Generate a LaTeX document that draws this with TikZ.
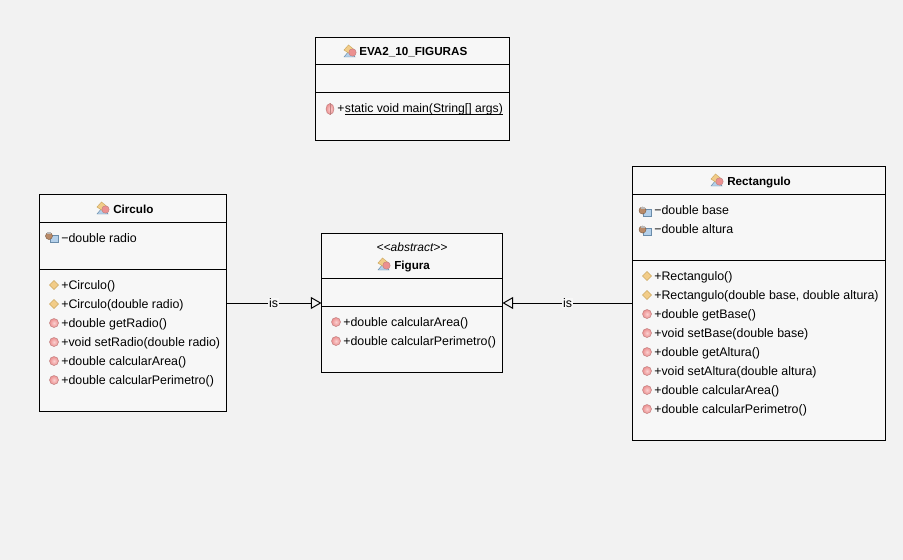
\documentclass[tikz,border=0pt]{standalone}
\usepackage{fontspec}
\setmainfont{Liberation Sans}
\usetikzlibrary{arrows.meta}
\definecolor{bgc}{HTML}{F2F2F2}
\definecolor{boxc}{HTML}{F7F7F7}
\definecolor{methin}{HTML}{FAD0D0}
\definecolor{methout}{HTML}{EC9090}
\definecolor{methedge}{HTML}{C08080}
\definecolor{ctorc}{HTML}{F2CC88}
\definecolor{ctoredge}{HTML}{CCA860}
\definecolor{iconblue}{HTML}{B4D0EA}
\definecolor{iconedge}{HTML}{6A8CAA}
\definecolor{iconbrown}{HTML}{B88A68}
\newcommand{\ulbase}[1]{\setbox0\hbox{#1}\rlap{\rule[-1.3pt]{\wd0}{0.55pt}}\box0}
\tikzset{
  x=0.75pt,y=-0.75pt,
  umlbox/.style={draw=black,line width=0.75pt,fill=boxc,inner sep=0pt,outer sep=0pt,anchor=north west},
  divider/.style={draw=black,line width=0.75pt},
  member/.style={anchor=west,inner sep=0pt,text height=7.5pt,text depth=1.5pt,font=\fontsize{9.3}{11}\selectfont},
  title/.style={anchor=west,inner sep=0pt,text height=7.5pt,text depth=1.5pt,font=\fontsize{8.75}{11}\selectfont\bfseries},
  conn/.style={draw=black,line width=0.75pt,-{Triangle[open,length=8pt,width=9pt,line width=0.75pt]}},
  islabel/.style={fill=boxc,inner sep=0.5pt,font=\fontsize{9.3}{11}\selectfont},
  classicon/.pic={
    \fill[iconblue,draw=iconedge,line width=0.35pt] (-6,6) -- (-1,0) -- (5,6) -- cycle;
    \fill[ctorc,draw=ctoredge,line width=0.35pt] (-6,-1) -- (-1.5,-6) -- (4,-1.5) -- (0,3) -- cycle;
    \fill[methout,draw=methedge,line width=0.35pt] (2.5,1.5) circle[radius=3.7];
  },
  fieldicon/.pic={
    \fill[iconblue,draw=iconedge,line width=0.35pt] (0,-2) rectangle (8,5);
    \fill[iconbrown,draw=iconbrown!70!black,line width=0.35pt] (-1,-1) circle[radius=3.5];
    \fill[gray!55] (-3,-5) rectangle (1,-3);
  },
  ctoricon/.pic={
    \fill[ctorc,draw=ctoredge,line width=0.35pt] (-4.5,0) -- (0,-4.5) -- (4.5,0) -- (0,4.5) -- cycle;
  },
  methicon/.pic={
    \shade[inner color=methin,outer color=methout,draw=methedge,line width=0.35pt] (0,0) circle[radius=4.5];
  },
  staticon/.pic={
    \shade[inner color=methin,outer color=methout,draw=methedge,line width=0.35pt] (0,0) ellipse[x radius=4,y radius=5.5];
    \draw[methedge,line width=0.3pt] (0,-5.5) -- (0,5.5);
  },
}
\begin{document}
\begin{tikzpicture}
\useasboundingbox (0,0) rectangle (903,560);
\fill[bgc] (0,0) rectangle (903,560);

% EVA2_10_FIGURAS
\node[umlbox,minimum width=194*0.75pt,minimum height=103*0.75pt] (eva) at (315.5,37.5) {};
\draw[divider] (eva.west |- 0,65) -- (eva.east |- 0,65);
\draw[divider] (eva.west |- 0,93) -- (eva.east |- 0,93);
\pic at (350,51) {classicon};
\node[title] (evat) at (359,51.5) {EVA2\_10\_FIGURAS};
\pic at (330,109) {staticon};
\node[member,font=\fontsize{9.15}{11}\selectfont] (evam) at (337,108.7) {+\hspace{0.4pt}\ulbase{static void main(String[] args)}};

% Circulo
\node[umlbox,minimum width=187*0.75pt,minimum height=217*0.75pt] (circ) at (39.5,194.5) {};
\draw[divider] (circ.west |- 0,222.5) -- (circ.east |- 0,222.5);
\draw[divider] (circ.west |- 0,269.5) -- (circ.east |- 0,269.5);
\pic at (103,208) {classicon};
\node[title] (circt) at (113,209) {Circulo};
\pic at (50,237) {fieldicon};
\node[member] (c1) at (61,238) {−double radio};
\pic at (54,285) {ctoricon};
\node[member] (c2) at (61,285) {+Circulo()};
\pic at (54,304) {ctoricon};
\node[member] (c3) at (61,304) {+Circulo(double radio)};
\pic at (54,323) {methicon};
\node[member] (c4) at (61,323) {+double getRadio()};
\pic at (54,342) {methicon};
\node[member] (c5) at (61,342) {+void setRadio(double radio)};
\pic at (54,361) {methicon};
\node[member] (c6) at (61,361) {+double calcularArea()};
\pic at (54,380) {methicon};
\node[member] (c7) at (61,380) {+double calcularPerimetro()};

% Figura
\node[umlbox,minimum width=181*0.75pt,minimum height=139*0.75pt] (fig) at (321.5,233.5) {};
\draw[divider] (fig.west |- 0,278) -- (fig.east |- 0,278);
\draw[divider] (fig.west |- 0,306) -- (fig.east |- 0,306);
\node[anchor=center,inner sep=0pt,font=\fontsize{9}{11}\selectfont\itshape] (figs) at (412,247.5) {<{}<abstract>{}>};
\pic at (384,264) {classicon};
\node[title] (figt) at (394,265) {Figura};
\pic at (336,322) {methicon};
\node[member] (f1) at (343,322) {+double calcularArea()};
\pic at (336,341) {methicon};
\node[member] (f2) at (343,341) {+double calcularPerimetro()};

% Rectangulo
\node[umlbox,minimum width=253*0.75pt,minimum height=273.5*0.75pt] (rect) at (632.5,166.5) {};
\draw[divider] (rect.west |- 0,194.5) -- (rect.east |- 0,194.5);
\draw[divider] (rect.west |- 0,260) -- (rect.east |- 0,260);
\pic at (717,180) {classicon};
\node[title] (rectt) at (727,181) {Rectangulo};
\pic at (643.5,211.5) {fieldicon};
\node[member] (r1) at (654,210) {−double base};
\pic at (643.5,230.5) {fieldicon};
\node[member] (r2) at (654,229) {−double altura};
\pic at (647,276) {ctoricon};
\node[member] (r3) at (654,276) {+Rectangulo()};
\pic at (647,295) {ctoricon};
\node[member] (r4) at (654,295) {+Rectangulo(double base, double altura)};
\pic at (647,314) {methicon};
\node[member] (r5) at (654,314) {+double getBase()};
\pic at (647,333) {methicon};
\node[member] (r6) at (654,333) {+void setBase(double base)};
\pic at (647,352) {methicon};
\node[member] (r7) at (654,352) {+double getAltura()};
\pic at (647,371) {methicon};
\node[member] (r8) at (654,371) {+void setAltura(double altura)};
\pic at (647,390) {methicon};
\node[member] (r9) at (654,390) {+double calcularArea()};
\pic at (647,409) {methicon};
\node[member] (r10) at (654,409) {+double calcularPerimetro()};

% connectors
\coordinate (lane) at (0,303);
\draw[conn] (circ.east |- lane) -- node[islabel,pos=0.495] (is1) {is} (fig.west |- lane);
\draw[conn] (rect.west |- lane) -- node[islabel,pos=0.5] (is2) {is} (fig.east |- lane);
\end{tikzpicture}
\end{document}
